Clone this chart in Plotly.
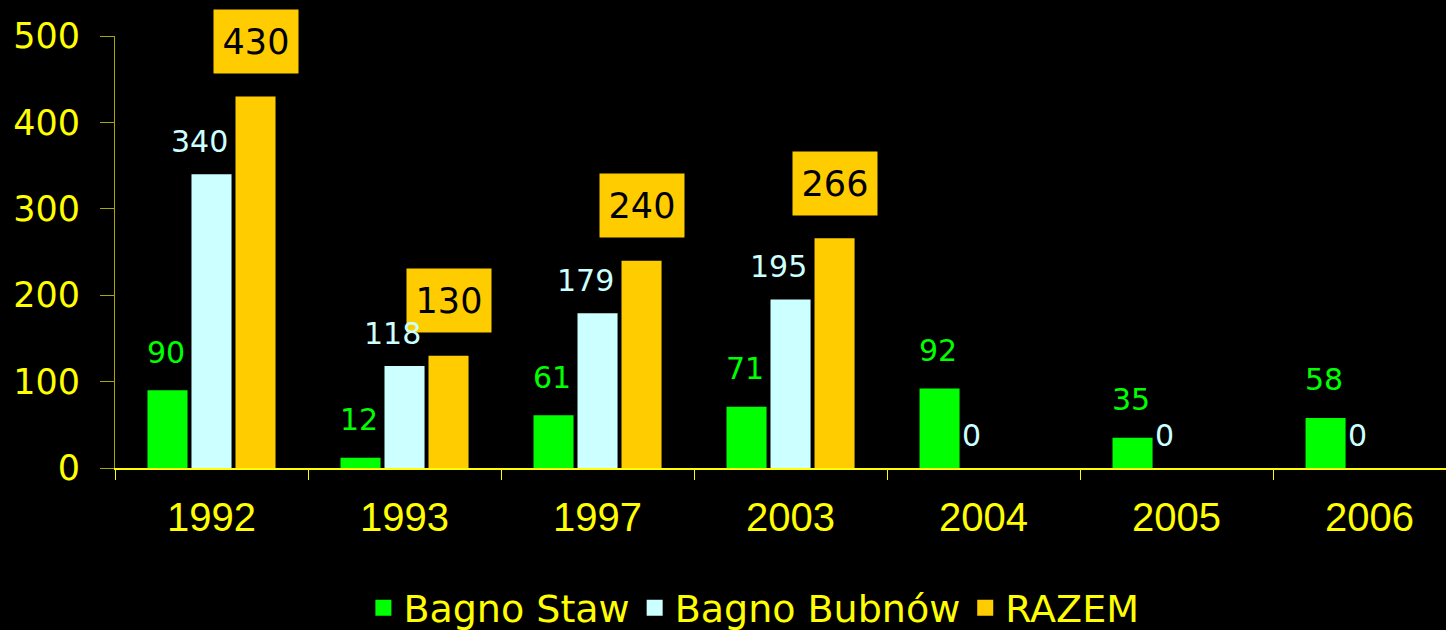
import plotly.graph_objects as go

years = ["1992", "1993", "1997", "2003", "2004", "2005", "2006"]
bagno_staw = [90, 12, 61, 71, 92, 35, 58]
bagno_bubnow = [340, 118, 179, 195, 0, 0, 0]
razem = [430, 130, 240, 266, None, None, None]
y_ticks = [0, 100, 200, 300, 400, 500]
series_names = ["Bagno Staw", "Bagno Bubnów", "RAZEM"]

GREEN = "#00ff00"
BLUE = "#ccffff"
GOLD = "#ffcc00"
YEL = "#ffff00"
OLIVE = "#a8a800"
FONT = "DejaVu Sans, sans-serif"
FONT_X = "Liberation Sans, Arial, sans-serif"
colors = [GREEN, BLUE, GOLD]
series = [bagno_staw, bagno_bubnow, razem]

fig = go.Figure()
for name, vals, col in zip(series_names, series, colors):
    fig.add_bar(x=years, y=vals, name=name, showlegend=False,
                marker=dict(color=col, line=dict(width=0)))
# legend proxies with larger square swatches
for name, col in zip(series_names, colors):
    fig.add_scatter(x=[None], y=[None], mode="markers", name=name,
                    marker=dict(symbol="square", size=19, color=col))

idx = list(range(len(years)))
ann = []
for i, v in zip(idx, razem):
    if v is None:
        continue
    ann.append(dict(x=i, y=v, xref="x", yref="y", text=str(v), showarrow=False,
                    xshift=44, yshift=55, yanchor="middle",
                    bgcolor=GOLD, width=80, height=59, borderpad=2,
                    font=dict(family=FONT, size=35, color="#000000")))
for i, v in zip(idx, bagno_staw):
    ann.append(dict(x=i, y=v, xref="x", yref="y", text=str(v), showarrow=False,
                    xshift=-46, yshift=38, yanchor="middle",
                    font=dict(family=FONT, size=30, color=GREEN)))
for i, v in zip(idx, bagno_bubnow):
    ann.append(dict(x=i, y=v, xref="x", yref="y", text=str(v), showarrow=False,
                    xshift=-12, yshift=33, yanchor="middle",
                    font=dict(family=FONT, size=30, color=BLUE)))

fig.update_layout(
    width=1446, height=630,
    paper_bgcolor="#000000", plot_bgcolor="#000000",
    margin=dict(l=115, r=0, t=36, b=162, autoexpand=False),
    barmode="group", bargap=0.316, bargroupgap=0.09,
    font=dict(family=FONT, color=YEL),
    annotations=ann,
    showlegend=True,
    legend=dict(orientation="h", x=0.48, xanchor="center", y=-0.324, yanchor="middle",
                font=dict(family=FONT, size=38, color=YEL), bgcolor="rgba(0,0,0,0)",
                itemwidth=30, traceorder="normal"),
)
fig.update_xaxes(
    type="category", range=[-0.5, 6.396], showgrid=False, zeroline=False,
    showline=True, linecolor=YEL, linewidth=2, automargin=False,
    ticks="outside", tickson="boundaries", ticklen=10, tickcolor=YEL, tickwidth=1,
    tickfont=dict(family=FONT_X, size=40, color=YEL), ticklabelstandoff=13,
)
fig.update_yaxes(
    range=[0, 500], tickvals=y_ticks, showgrid=False, zeroline=False,
    showline=True, linecolor=OLIVE, linewidth=1, automargin=False,
    ticks="outside", ticklen=14, tickcolor=OLIVE, tickwidth=1,
    tickfont=dict(family=FONT, size=35, color=YEL), ticklabelstandoff=13,
)

fig.write_html("out.html", config={"displayModeBar": False},
               post_script="document.body.style.margin='0';")
